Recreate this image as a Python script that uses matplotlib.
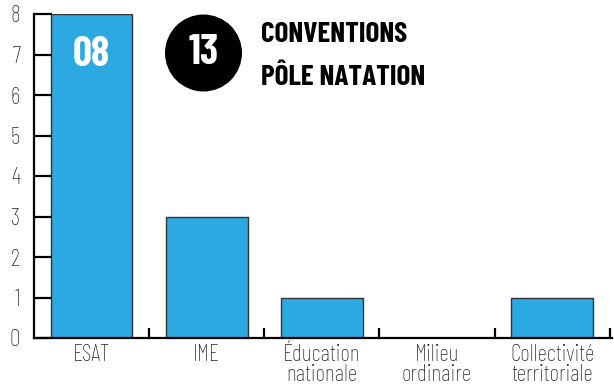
import matplotlib.pyplot as plt
from matplotlib.patches import Circle

categories = ['ESAT', 'IME', 'Éducation\nnationale', 'Milieu\nordinaire', 'Collectivité\nterritoriale']
counts = [8, 3, 1, 0, 1]
total = 13

font = 'Barlow Condensed'

fig = plt.figure(figsize=(6.14, 3.89), dpi=100)
ax = fig.add_axes([34 / 614, 51 / 389, 578 / 614, 324 / 389])

x = range(len(categories))
ax.bar(x, counts, width=0.71, color='#2DA9E1', edgecolor='#333333', linewidth=1)

ax.set_xlim(-0.5, 4.52)
ax.set_ylim(0, 8)
ax.spines['top'].set_visible(False)
ax.spines['right'].set_visible(False)
ax.spines['left'].set_linewidth(1.6)
ax.spines['bottom'].set_linewidth(1.6)

ax.set_yticks(range(0, 9))
ax.set_yticklabels([str(v) for v in range(0, 9)], fontfamily=font, fontweight='light',
                   fontsize=17, color='#222222')
ax.tick_params(axis='y', direction='in', length=13, width=1.6, pad=10)
ax.set_xticks(list(x))
ax.set_xticklabels(categories, fontfamily=font, fontweight='light', fontsize=17,
                   color='#222222', linespacing=0.9)
ax.tick_params(axis='x', length=0, pad=4)
ax.set_xticks([i + 0.5 for i in x], minor=True)
ax.tick_params(axis='x', which='minor', direction='in', length=7, width=1.6)

# value of the first bar written inside it
ax.text(0, 7.0, '%02d' % counts[0], ha='center', va='center', color='white',
        fontsize=30, fontweight='bold', fontfamily=font)

# badge with the total number of conventions
circ = Circle((2.035, (389 - 53) / 100), 0.385, transform=fig.dpi_scale_trans,
              facecolor='black', edgecolor='none')
fig.patches.append(circ)
fig.text(204 / 614, 1 - 53 / 389, str(total), ha='center', va='center', color='white',
         fontsize=30, fontweight='bold', fontfamily=font)
fig.text(261 / 614, 1 - 34 / 389, 'CONVENTIONS', ha='left', va='center', color='black',
         fontsize=21, fontweight='bold', fontfamily=font)
fig.text(261 / 614, 1 - 77 / 389, 'PÔLE NATATION', ha='left', va='center', color='black',
         fontsize=21, fontweight='bold', fontfamily=font)

fig.savefig('out.png', dpi=100)
